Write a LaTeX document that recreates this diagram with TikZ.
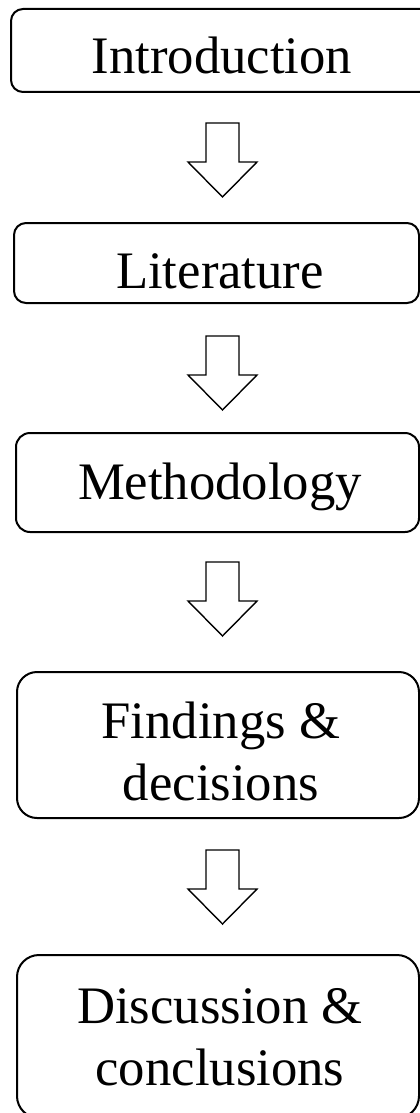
\documentclass[tikz,border=0pt]{standalone}
\usepackage{fontspec}
\setmainfont{Liberation Serif}
\begin{document}
\begin{tikzpicture}[x=1pt,y=1pt,
  stagebox/.style={draw=black, line width=2pt, fill=white, inner sep=0pt},
  stagetext/.style={font=\fontsize{52.7}{61.5}\selectfont, inner sep=0pt, align=center, anchor=base},
  blockarrow/.style={draw=black, line width=1.4pt, fill=white, line join=miter}
]
\useasboundingbox (0,0) rectangle (420,-1113);
\clip (0,0) rectangle (420,-1113);

% boxes
\node[stagebox, rounded corners=12pt, minimum width=430pt, minimum height=83pt] (intro) at (226,-50.5) {};
\node[stagebox, rounded corners=12pt, minimum width=405pt, minimum height=80pt] (lit) at (216.5,-263) {};
\node[stagebox, rounded corners=14pt, minimum width=403pt, minimum height=99pt] (meth) at (217.5,-482.5) {};
\node[stagebox, rounded corners=20pt, minimum width=402pt, minimum height=146pt] (find) at (218,-745) {};
\node[stagebox, rounded corners=22pt, minimum width=402pt, minimum height=163pt] (disc) at (218,-1036.5) {};

% texts (base anchor = baseline of the last line)
\node[stagetext] (introt) at (222,-74) {Introduction};
\node[stagetext] (litt) at (220,-288) {Literature};
\node[stagetext] (metht) at (220,-499) {Methodology};
\node[stagetext] (findt) at (221,-800) {Findings \&\\decisions};
\node[stagetext] (disct) at (220,-1085) {Discussion \&\\conclusions};

% block arrows
\foreach \n/\t in {a1/-123, a2/-336, a3/-562, a4/-850}{
  \coordinate (\n) at (222.5,\t);
  \draw[blockarrow] (\n) ++(-16.5,0) -- ++(33,0) -- ++(0,-39) -- ++(18,0)
     -- ++(-34.5,-35) -- ++(-34.5,35) -- ++(18,0) -- cycle;
}
\end{tikzpicture}
\end{document}
